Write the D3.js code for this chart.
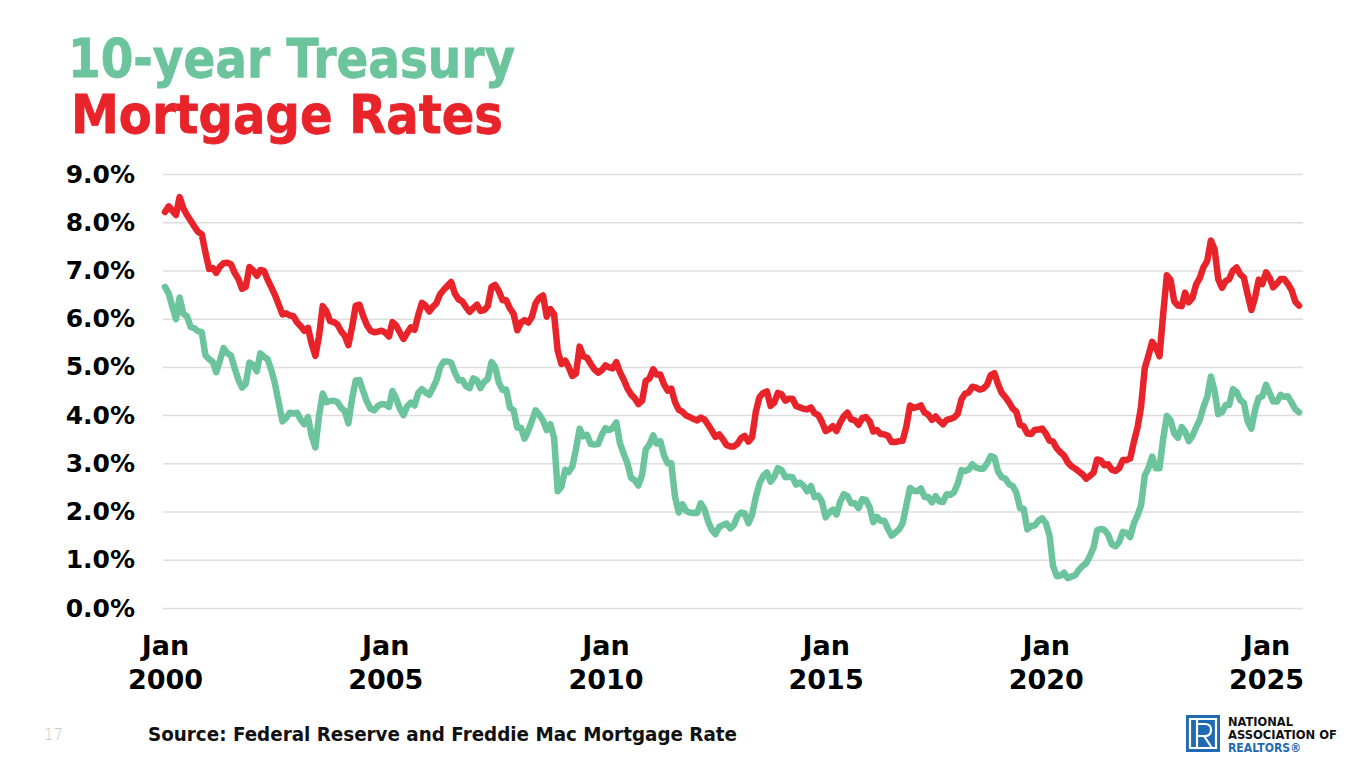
<!DOCTYPE html>
<html>
<head>
<meta charset="utf-8">
<script src="https://cdn.jsdelivr.net/npm/d3@7"></script>
<style>
  html, body { margin: 0; padding: 0; background: #fff; }
  svg { display: block; }
  text { font-family: "DejaVu Sans", sans-serif; }
</style>
</head>
<body>
<div id="chart"></div>
<script>
// monthly values, Jan 2000 .. Oct 2025
const treasury10y = [
  6.66, 6.52, 6.26, 5.99, 6.44, 6.10, 6.05, 5.83, 5.80, 5.74, 5.72, 5.24,
  5.16, 5.10, 4.89, 5.14, 5.39, 5.28, 5.24, 4.97, 4.73, 4.57, 4.65, 5.09,
  5.04, 4.91, 5.28, 5.21, 5.16, 4.93, 4.65, 4.26, 3.87, 3.94, 4.05, 4.03,
  4.05, 3.90, 3.81, 3.96, 3.57, 3.33, 3.98, 4.45, 4.27, 4.29, 4.30, 4.27,
  4.15, 4.08, 3.83, 4.35, 4.72, 4.73, 4.50, 4.28, 4.13, 4.10, 4.19, 4.23,
  4.22, 4.17, 4.50, 4.34, 4.14, 4.00, 4.18, 4.26, 4.20, 4.46, 4.54, 4.47,
  4.42, 4.57, 4.72, 4.99, 5.11, 5.11, 5.09, 4.88, 4.72, 4.73, 4.60, 4.56,
  4.76, 4.72, 4.56, 4.69, 4.75, 5.10, 5.00, 4.67, 4.52, 4.53, 4.15, 4.10,
  3.74, 3.74, 3.51, 3.68, 3.88, 4.10, 4.01, 3.89, 3.69, 3.81, 3.53, 2.42,
  2.52, 2.87, 2.82, 2.93, 3.29, 3.72, 3.56, 3.59, 3.40, 3.39, 3.40, 3.59,
  3.73, 3.69, 3.73, 3.85, 3.42, 3.20, 3.01, 2.70, 2.65, 2.54, 2.76, 3.29,
  3.39, 3.58, 3.41, 3.46, 3.17, 3.00, 3.00, 2.30, 1.98, 2.15, 2.01, 1.98,
  1.97, 1.97, 2.17, 2.05, 1.80, 1.62, 1.53, 1.68, 1.72, 1.75, 1.65, 1.72,
  1.91, 1.98, 1.96, 1.76, 1.93, 2.30, 2.58, 2.74, 2.81, 2.62, 2.72, 2.90,
  2.86, 2.71, 2.72, 2.71, 2.56, 2.60, 2.54, 2.42, 2.53, 2.30, 2.33, 2.21,
  1.88, 1.98, 2.04, 1.94, 2.20, 2.36, 2.32, 2.17, 2.17, 2.07, 2.26, 2.24,
  2.09, 1.78, 1.89, 1.81, 1.81, 1.64, 1.50, 1.56, 1.63, 1.76, 2.14, 2.49,
  2.43, 2.42, 2.48, 2.30, 2.30, 2.19, 2.32, 2.21, 2.20, 2.36, 2.35, 2.40,
  2.58, 2.86, 2.84, 2.87, 2.98, 2.91, 2.89, 2.89, 3.00, 3.15, 3.12, 2.83,
  2.71, 2.68, 2.57, 2.53, 2.40, 2.07, 2.06, 1.63, 1.70, 1.71, 1.81, 1.86,
  1.76, 1.50, 0.87, 0.66, 0.67, 0.73, 0.62, 0.65, 0.68, 0.79, 0.87, 0.93,
  1.08, 1.26, 1.61, 1.64, 1.62, 1.52, 1.32, 1.28, 1.37, 1.58, 1.56, 1.47,
  1.76, 1.93, 2.13, 2.75, 2.90, 3.14, 2.90, 2.90, 3.52, 3.98, 3.89, 3.62,
  3.53, 3.75, 3.66, 3.46, 3.57, 3.75, 3.90, 4.17, 4.38, 4.80, 4.50, 4.02,
  4.06, 4.21, 4.21, 4.54, 4.48, 4.31, 4.25, 3.87, 3.72, 4.10, 4.36, 4.39,
  4.63, 4.45, 4.28, 4.28, 4.42, 4.38, 4.39, 4.26, 4.12, 4.06
];

const mortgage30y = [
  8.21, 8.33, 8.24, 8.15, 8.52, 8.29, 8.15, 8.03, 7.91, 7.80, 7.75, 7.38,
  7.03, 7.05, 6.95, 7.08, 7.15, 7.16, 7.13, 6.95, 6.82, 6.62, 6.66, 7.07,
  7.00, 6.89, 7.01, 6.99, 6.81, 6.65, 6.49, 6.29, 6.09, 6.11, 6.07, 6.05,
  5.92, 5.84, 5.75, 5.81, 5.48, 5.23, 5.63, 6.26, 6.15, 5.95, 5.93, 5.88,
  5.74, 5.64, 5.45, 5.83, 6.27, 6.29, 6.06, 5.87, 5.75, 5.72, 5.73, 5.75,
  5.71, 5.63, 5.93, 5.86, 5.72, 5.58, 5.70, 5.82, 5.77, 6.07, 6.33, 6.27,
  6.15, 6.25, 6.32, 6.51, 6.60, 6.68, 6.76, 6.52, 6.40, 6.36, 6.24, 6.14,
  6.22, 6.29, 6.16, 6.18, 6.26, 6.66, 6.70, 6.57, 6.38, 6.38, 6.21, 6.10,
  5.76, 5.92, 5.97, 5.92, 6.04, 6.32, 6.43, 6.48, 6.04, 6.20, 6.09, 5.33,
  5.06, 5.13, 5.00, 4.81, 4.86, 5.42, 5.22, 5.19, 5.06, 4.95, 4.88, 4.93,
  5.03, 4.99, 4.97, 5.10, 4.89, 4.74, 4.56, 4.43, 4.35, 4.23, 4.30, 4.71,
  4.76, 4.95, 4.84, 4.84, 4.64, 4.51, 4.55, 4.27, 4.11, 4.07, 3.99, 3.96,
  3.92, 3.89, 3.95, 3.91, 3.80, 3.68, 3.55, 3.60, 3.50, 3.38, 3.35, 3.35,
  3.41, 3.53, 3.57, 3.45, 3.54, 4.07, 4.37, 4.46, 4.49, 4.19, 4.26, 4.46,
  4.43, 4.30, 4.34, 4.34, 4.19, 4.16, 4.13, 4.12, 4.16, 4.04, 4.00, 3.86,
  3.67, 3.71, 3.77, 3.67, 3.84, 3.98, 4.05, 3.91, 3.89, 3.80, 3.94, 3.96,
  3.87, 3.66, 3.69, 3.61, 3.60, 3.57, 3.44, 3.44, 3.46, 3.47, 3.77, 4.20,
  4.15, 4.17, 4.20, 4.05, 4.01, 3.90, 3.97, 3.88, 3.81, 3.90, 3.92, 3.95,
  4.03, 4.33, 4.44, 4.47, 4.59, 4.57, 4.53, 4.55, 4.63, 4.83, 4.87, 4.64,
  4.46, 4.37, 4.27, 4.14, 4.07, 3.80, 3.77, 3.62, 3.61, 3.69, 3.70, 3.72,
  3.62, 3.47, 3.45, 3.31, 3.23, 3.16, 3.02, 2.94, 2.89, 2.83, 2.77, 2.68,
  2.74, 2.81, 3.08, 3.06, 2.96, 2.98, 2.87, 2.84, 2.90, 3.07, 3.07, 3.10,
  3.45, 3.76, 4.17, 4.98, 5.23, 5.52, 5.41, 5.22, 6.11, 6.90, 6.80, 6.36,
  6.27, 6.26, 6.54, 6.34, 6.43, 6.71, 6.84, 7.07, 7.20, 7.62, 7.44, 6.82,
  6.64, 6.78, 6.82, 7.00, 7.06, 6.92, 6.85, 6.50, 6.18, 6.43, 6.81, 6.72,
  6.96, 6.84, 6.65, 6.73, 6.82, 6.82, 6.72, 6.59, 6.35, 6.27
];

const yTicks = [0, 1, 2, 3, 4, 5, 6, 7, 8, 9];
const xTickYears = [2000, 2005, 2010, 2015, 2020, 2025];

const width = 1366;
const height = 767;
const green = '#6cc49c';
const red = '#e8232a';

const dates = treasury10y.map((_, i) => new Date(2000, i, 1));

const svg = d3.select('#chart')
  .append('svg')
  .attr('width', width)
  .attr('height', height)
  .attr('viewBox', `0 0 ${width} ${height}`);

// title
svg.append('text')
  .attr('x', 68).attr('y', 77)
  .attr('font-size', 53).attr('font-weight', 'bold')
  .attr('fill', green)
  .attr('stroke', green).attr('stroke-width', 0.8)
  .attr('textLength', 447).attr('lengthAdjust', 'spacingAndGlyphs')
  .text('10-year Treasury');

svg.append('text')
  .attr('x', 71).attr('y', 133)
  .attr('font-size', 53).attr('font-weight', 'bold')
  .attr('fill', red)
  .attr('stroke', red).attr('stroke-width', 0.8)
  .attr('textLength', 432).attr('lengthAdjust', 'spacingAndGlyphs')
  .text('Mortgage Rates');

const x = d3.scaleTime()
  .domain([new Date(2000, 0, 1), new Date(2025, 9, 1)])
  .range([165, 1299]);

const y = d3.scaleLinear()
  .domain([0, 9])
  .range([608, 174]);

// y axis + gridlines
const yAxis = svg.append('g')
  .attr('transform', 'translate(163,0)')
  .call(d3.axisLeft(y)
    .tickValues(yTicks)
    .tickSizeInner(-1140)
    .tickSizeOuter(0)
    .tickPadding(28)
    .tickFormat(d => d3.format('.1f')(d) + '%'));

yAxis.select('.domain').remove();
yAxis.selectAll('line').attr('stroke', '#dedede').attr('stroke-width', 1.5);
yAxis.selectAll('text')
  .attr('font-family', '"DejaVu Sans", sans-serif')
  .attr('font-size', 25).attr('font-weight', 'bold')
  .attr('fill', '#000');

// x axis, two-line labels
const xAxis = svg.append('g')
  .attr('transform', 'translate(0,608)')
  .call(d3.axisBottom(x)
    .tickValues(xTickYears.map(yr => new Date(yr, 0, 1)))
    .tickSize(0)
    .tickFormat(''));

xAxis.select('.domain').remove();
xAxis.selectAll('.tick text')
  .attr('y', 0).attr('dy', null)
  .attr('font-family', '"DejaVu Sans", sans-serif')
  .attr('font-size', 27).attr('font-weight', 'bold')
  .attr('fill', '#000')
  .each(function(d) {
    const t = d3.select(this);
    t.append('tspan').attr('x', 0).attr('y', 47).text('Jan');
    t.append('tspan').attr('x', 0).attr('y', 81).text(d.getFullYear());
  });

const line = d3.line()
  .x((d, i) => x(dates[i]))
  .y(d => y(d));

svg.append('path')
  .datum(treasury10y)
  .attr('d', line)
  .attr('fill', 'none')
  .attr('stroke', green)
  .attr('stroke-width', 6.5)
  .attr('stroke-linejoin', 'round')
  .attr('stroke-linecap', 'round');

svg.append('path')
  .datum(mortgage30y)
  .attr('d', line)
  .attr('fill', 'none')
  .attr('stroke', red)
  .attr('stroke-width', 6.5)
  .attr('stroke-linejoin', 'round')
  .attr('stroke-linecap', 'round');

// footer
svg.append('text')
  .attr('x', 44).attr('y', 740)
  .attr('font-size', 15).attr('fill', '#c4c4c4')
  .attr('font-family', '"Open Sans", sans-serif').attr('font-weight', 300)
  .text('17');

svg.append('text')
  .attr('x', 148).attr('y', 741)
  .attr('font-size', 19).attr('font-weight', 600)
  .attr('font-family', '"Open Sans", sans-serif')
  .attr('fill', '#111')
  .attr('textLength', 589).attr('lengthAdjust', 'spacingAndGlyphs')
  .text('Source: Federal Reserve and Freddie Mac Mortgage Rate');

// NAR logo
const logo = svg.append('g').attr('transform', 'translate(1186,715)');
logo.append('rect').attr('width', 34).attr('height', 37).attr('fill', '#1f6ab3');
logo.append('path')
  .attr('d', 'M4,4 H30 V33 H4 Z M11,4 V33 M11,9 H19 Q25,9 25,15 Q25,21 19,21 H11 M18,21 L26,33')
  .attr('fill', 'none').attr('stroke', '#fff').attr('stroke-width', 2.2);

const logoText = [
  { t: 'NATIONAL', y: 726, w: 65, c: '#111' },
  { t: 'ASSOCIATION OF', y: 739, w: 109, c: '#111' },
  { t: 'REALTORS®', y: 752, w: 73, c: '#1f6ab3' }
];
svg.selectAll('.logo-text')
  .data(logoText)
  .enter().append('text')
  .attr('class', 'logo-text')
  .attr('x', 1228).attr('y', d => d.y)
  .attr('font-size', 12).attr('font-weight', 'bold')
  .attr('fill', d => d.c)
  .attr('textLength', d => d.w).attr('lengthAdjust', 'spacingAndGlyphs')
  .text(d => d.t);
</script>
</body>
</html>
